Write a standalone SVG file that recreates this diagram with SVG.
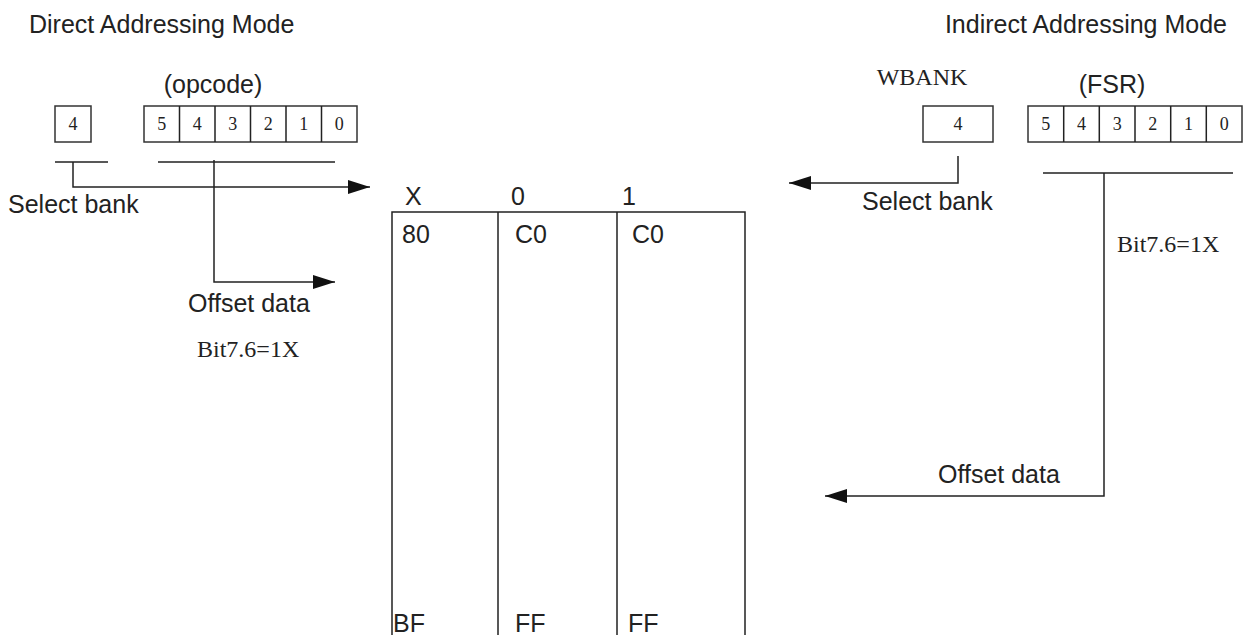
<svg xmlns="http://www.w3.org/2000/svg" width="1243" height="635" viewBox="0 0 1243 635">
<style>
.s{font-family:"Liberation Sans",Arial,sans-serif;font-size:25px;fill:#222}
.t{font-family:"Liberation Serif","Times New Roman",serif;font-size:24px;fill:#222}
.d{font-family:"Liberation Serif","Times New Roman",serif;font-size:18px;fill:#222;text-anchor:middle}
.b{fill:#fff;stroke:#333;stroke-width:1.5}
.l{fill:none;stroke:#222;stroke-width:1.5}
</style>
<defs>
<marker id="ah" viewBox="0 0 22 14" refX="22" refY="7" markerWidth="22" markerHeight="14" markerUnits="userSpaceOnUse" orient="auto">
<path d="M0,0 L22,7 L0,14 z" fill="#111"/>
</marker>
</defs>
<rect width="1243" height="635" fill="#fff"/>
<text class="s" x="29" y="33">Direct Addressing Mode</text>
<text class="s" x="1227" y="33" text-anchor="end">Indirect Addressing Mode</text>

<g id="bank-left">
<rect class="b" x="55" y="106" width="36" height="36"/>
<text class="d" x="73" y="130">4</text>
</g>
<g id="opcode">
<text class="s" x="213" y="93" text-anchor="middle">(opcode)</text>
<rect class="b" x="144" y="106" width="213" height="36"/>
<path class="l" d="M179.5,106V142M215,106V142M250.5,106V142M286,106V142M321.5,106V142"/>
<text class="d" x="161.8" y="130">5</text>
<text class="d" x="197.3" y="130">4</text>
<text class="d" x="232.8" y="130">3</text>
<text class="d" x="268.3" y="130">2</text>
<text class="d" x="303.8" y="130">1</text>
<text class="d" x="339.3" y="130">0</text>
</g>
<g id="wbank">
<text class="t" x="922" y="85" text-anchor="middle">WBANK</text>
<rect class="b" x="923" y="106" width="70" height="36"/>
<text class="d" x="958" y="130">4</text>
</g>
<g id="fsr">
<text class="s" x="1112" y="93" text-anchor="middle">(FSR)</text>
<rect class="b" x="1028" y="106" width="214" height="36"/>
<path class="l" d="M1063.7,106V142M1099.3,106V142M1135,106V142M1170.7,106V142M1206.3,106V142"/>
<text class="d" x="1045.8" y="130">5</text>
<text class="d" x="1081.5" y="130">4</text>
<text class="d" x="1117.2" y="130">3</text>
<text class="d" x="1152.8" y="130">2</text>
<text class="d" x="1188.5" y="130">1</text>
<text class="d" x="1224.2" y="130">0</text>
</g>

<g id="memory">
<path class="l" d="M392,635V212H745V635M498,212V635M617,212V635"/>
<text class="s" x="405" y="205">X</text>
<text class="s" x="511" y="205">0</text>
<text class="s" x="622" y="205">1</text>
<text class="s" x="402" y="243">80</text>
<text class="s" x="515" y="243">C0</text>
<text class="s" x="632" y="243">C0</text>
<text class="s" x="393" y="632">BF</text>
<text class="s" x="515" y="632">FF</text>
<text class="s" x="628" y="632">FF</text>
</g>

<g id="connectors">
<path class="l" d="M55,162H108M73,162V187H370" marker-end="url(#ah)"/>
<path class="l" d="M158,162H335M214,160V282H335" marker-end="url(#ah)"/>
<path class="l" d="M958,156V183H789" marker-end="url(#ah)"/>
<path class="l" d="M1043,173H1233M1104,173V496H825" marker-end="url(#ah)"/>
</g>

<g id="labels">
<text class="s" x="8" y="213">Select bank</text>
<text class="s" x="188" y="312">Offset data</text>
<text class="t" x="197" y="357">Bit7.6=1X</text>
<text class="s" x="862" y="210">Select bank</text>
<text class="t" x="1117" y="252">Bit7.6=1X</text>
<text class="s" x="938" y="483">Offset data</text>
</g>
</svg>
